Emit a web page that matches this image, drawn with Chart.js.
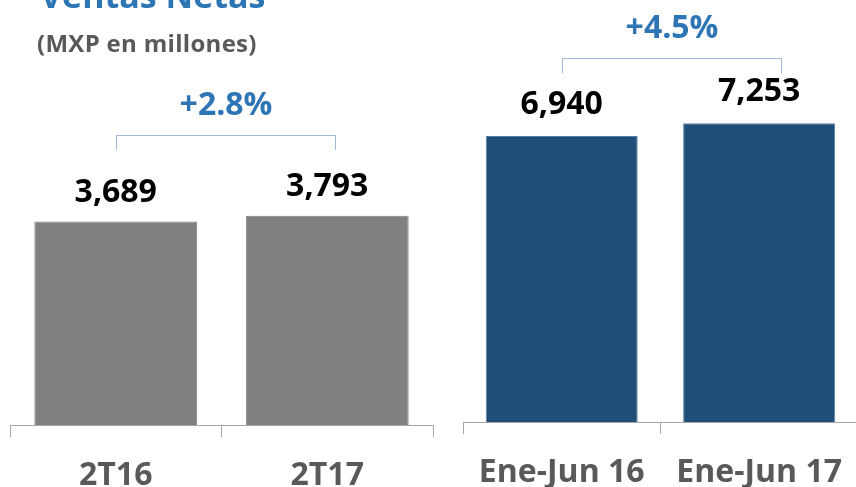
<!DOCTYPE html>
<html>
<head>
<meta charset="utf-8">
<script src="https://cdn.jsdelivr.net/npm/chart.js@4.4.0/dist/chart.umd.min.js"></script>
<style>
  html, body { margin: 0; padding: 0; width: 856px; height: 487px; overflow: hidden; background: #fff; font-family: "Open Sans", sans-serif; }
  .box { position: absolute; top: 0; }
  #title { position: absolute; left: 40px; top: -28px; font-size: 34px; font-weight: bold; color: #2E75B6; white-space: nowrap; }
  #subtitle { position: absolute; left: 37px; top: 26px; font-size: 24px; font-weight: bold; color: #595959; white-space: nowrap; letter-spacing: 0.3px; }
</style>
</head>
<body>
<div class="box" style="left:0px"><canvas id="quarterChart" width="440" height="487"></canvas></div>
<div class="box" style="left:453px"><canvas id="halfChart" width="410" height="487"></canvas></div>
<div id="title">Ventas Netas</div>
<div id="subtitle">(MXP en millones)</div>
<script>
// data
const quarterLabels = ['2T16', '2T17'];
const quarterSales = [3689, 3793];
const quarterGrowth = '+2.8%';

const halfLabels = ['Ene-Jun 16', 'Ene-Jun 17'];
const halfSales = [6940, 7253];
const halfGrowth = '+4.5%';

// value labels + growth bracket
const labelsPlugin = {
  id: 'valueLabels',
  afterDatasetsDraw(chart, args, opts) {
    const ctx = chart.ctx;
    const meta = chart.getDatasetMeta(0);
    const values = chart.data.datasets[0].data;
    ctx.save();
    ctx.font = 'bold 32px "Open Sans"';
    ctx.fillStyle = '#000000';
    ctx.textAlign = 'center';
    ctx.textBaseline = 'alphabetic';
    meta.data.forEach((bar, i) => {
      ctx.fillText(values[i].toLocaleString('en-US'), bar.x, bar.y - opts.gap);
    });

    const x0 = Math.round(meta.data[0].x) + 0.5;
    const x1 = x0 + opts.bracketWidth;
    const y = opts.bracketY + 0.5;
    ctx.strokeStyle = '#3c74b0';
    ctx.lineWidth = 1;
    ctx.setLineDash([1, 1]);
    ctx.beginPath();
    ctx.moveTo(x0, y + 14);
    ctx.lineTo(x0, y);
    ctx.lineTo(x1, y);
    ctx.lineTo(x1, y + 14);
    ctx.stroke();
    ctx.setLineDash([]);

    ctx.fillStyle = '#2E75B6';
    ctx.textBaseline = 'middle';
    ctx.fillText(opts.growth, (x0 + x1) / 2, y - 30);
    ctx.restore();
  }
};

function makeChart(id, labels, values, color, border, yMax, padding, axisHeight, extra) {
  const ctx = document.getElementById(id).getContext('2d');
  return new Chart(ctx, {
    type: 'bar',
    data: {
      labels: labels,
      datasets: [{
        data: values,
        backgroundColor: color,
        borderColor: border,
        borderWidth: 1,
        barPercentage: 0.77,
        categoryPercentage: 1.0
      }]
    },
    options: {
      responsive: false,
      animation: false,
      devicePixelRatio: 1,
      layout: { padding: padding },
      plugins: {
        legend: { display: false },
        tooltip: { enabled: false },
        valueLabels: extra
      },
      scales: {
        x: {
          grid: {
            offset: true,
            drawOnChartArea: false,
            drawTicks: true,
            tickLength: 12,
            color: '#a6a6a6'
          },
          border: { color: '#a6a6a6', width: 1 },
          ticks: {
            color: '#595959',
            font: { family: 'Open Sans', size: 32, weight: 'bold' },
            padding: 20,
            maxRotation: 0
          },
          afterFit: scale => { scale.height = axisHeight; }
        },
        y: {
          display: false,
          min: 0,
          max: yMax
        }
      }
    },
    plugins: [labelsPlugin]
  });
}

makeChart('quarterChart', quarterLabels, quarterSales, '#808080', '#808080', 7000,
  { left: 10, right: 7, top: 39, bottom: 0 }, 62,
  { gap: 20, bracketY: 135, bracketWidth: 219, growth: quarterGrowth });

makeChart('halfChart', halfLabels, halfSales, '#1F4E79', '#5b7fa6', 10000,
  { left: 10, right: 4, top: 10, bottom: 0 }, 65,
  { gap: 22, bracketY: 58, bracketWidth: 219, growth: halfGrowth });
</script>
</body>
</html>
